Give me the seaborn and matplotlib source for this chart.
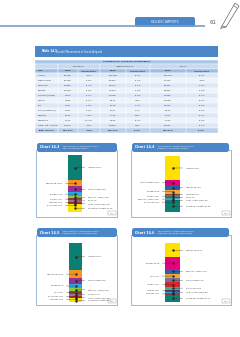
import matplotlib
matplotlib.use("Agg")
import matplotlib.pyplot as plt
from matplotlib.patches import Rectangle, FancyBboxPatch, Polygon
from matplotlib.transforms import blended_transform_factory
import seaborn as sns
import pandas as pd

sns.set_theme(style="white")
plt.rcParams['font.family'] = ['DejaVu Sans']

# ---------------- table data ----------------
cities = ["Athens", "Thessaloniki", "Heraklion", "Rhodes", "Kerkyra (Corfu)", "Chania",
          "Kos", "Thira (Santorini)", "Mikonos", "Zakinthos", "Other GR Airports", "Total Greece"]
dom_2008 = [85265, 20436, 14883, 13008, 3904, 4885, 4247, 3247, 6502, 1004, 41673, 199054]
dom_pct = ["-4.1%", "-0.2%", "-0.0%", "-1.6%", "-2.7%", "-8.0%", "-7.9%", "-6.2%", "-7.6%", "-17.2%", "-4.2%", "-4.8%"]
int_2008 = [101486, 20831, 29014, 17873, 11086, 8175, 8775, 2947, 1252, 3696, 14884, 220019]
int_pct = ["-2.1%", "-3.9%", "-3.0%", "-1.6%", "-3.5%", "0.5%", "-1.1%", "0.7%", "8.0%", "-0.9%", "0.0%", "-2.0%"]
tot_2008 = [186751, 41267, 43897, 30881, 14990, 13060, 13022, 6194, 7754, 4700, 56557, 419073]
tot_pct = ["-3.2%", "-4.4%", "-1.8%", "-1.6%", "-3.3%", "-3.8%", "-3.5%", "-0.3%", "-6.0%", "-2.6%", "-3.1%", "-3.0%"]

# ---------------- chart data ----------------
c1_names = ["Athens", "Heraklion", "Thessaloniki", "Rhodes", "Kerkyra (Corfu)", "Chania",
            "Kos", "Mikonos", "Thira (Santorini)", "Zakinthos", "Other GR Airports"]
c1_values = [186751, 43897, 41267, 30881, 14990, 13060, 13022, 7754, 6194, 4700, 56557]
c1_colors = ['#0c7f73', '#f7941d', '#9b2d96', '#27aae1', '#8dc63f', '#9e3b34', '#8c7a8c',
             '#c1272d', '#6d4c41', '#5b5ea6', '#ffe600']

c2_names = ["Athens", "Thessaloniki", "Heraklion", "Rhodes", "Mikonos", "Chania",
            "Kos", "Kerkyra (Corfu)", "Thira (Santorini)", "Zakinthos", "Other GR Airports"]
c2_values = [85265, 20436, 14883, 13008, 6502, 4885, 4247, 3904, 3247, 1004, 41673]
c2_colors = ['#ffe100', '#e6007e', '#2e5fa8', '#f0a830', '#8b4a3c', '#7b6f9b', '#d7262e',
             '#2bb3a0', '#8dc63f', '#6d2e8e', '#0c7f73']

c3_names = ["Athens", "Heraklion", "Thessaloniki", "Rhodes", "Kerkyra (Corfu)", "Kos",
            "Chania", "Zakinthos", "Thira (Santorini)", "Mikonos", "Other GR Airports"]
c3_values = [101486, 29014, 20831, 17873, 11086, 8775, 8175, 3696, 2947, 1252, 14884]
c3_colors = ['#0c7f73', '#f7941d', '#9b2d96', '#27aae1', '#8dc63f', '#9e3b34', '#8c7a8c',
             '#c1272d', '#6d4c41', '#5b5ea6', '#ffe600']

c4_names = ["Heraklion", "Rhodes", "Kerkyra (Corfu)", "Kos", "Thessaloniki", "Chania",
            "Zakinthos", "Athens", "Thira (Santorini)", "Mikonos", "Other GR Airports"]
c4_values = [26.0, 20.5, 9.3, 7.7, 7.6, 7.5, 5.5, 3.8, 3.0, 2.0, 13.5]
c4_colors = ['#ffe100', '#e6007e', '#2e5fa8', '#f0a830', '#7b6f9b', '#d7262e', '#3cb371',
             '#6d2e8e', '#27aae1', '#8b4a3c', '#0c7f73']

W, H = 240, 337
fig = plt.figure(figsize=(W / 100, H / 100), dpi=100)
fig.patch.set_facecolor('white')
deco = fig.add_axes([0, 0, 1, 1])
deco.set_xlim(0, W)
deco.set_ylim(H, 0)
deco.axis('off')

BLUE = '#4a86c8'
TXT = '#3a3a3a'


def rect(x0, y0, x1, y1, **kw):
    deco.add_patch(Rectangle((x0, y0), x1 - x0, y1 - y0, **kw))


def rbox(x0, y0, x1, y1, r=2, **kw):
    deco.add_patch(FancyBboxPatch((x0, y0), x1 - x0, y1 - y0,
                                  boxstyle=f"round,pad=0,rounding_size={r}", **kw))


# ---------------- page header ----------------
deco.plot([0, 205], [25.5, 25.5], color='#7d9cc4', lw=1.2, solid_capstyle='butt')
rbox(135, 17, 195, 27, r=2, fc=BLUE, ec='none')
deco.text(165, 22, "HELLENIC AIRPORTS", color='white', fontsize=2.0, ha='center', va='center')
deco.text(213, 23, "61", color='#555555', fontsize=4.0, ha='center', va='center')
deco.add_patch(Polygon([[222, 26], [226, 27], [239, 6], [235, 3]], closed=True,
                       fc='none', ec='#666666', lw=0.5))
deco.plot([222, 220.5, 226], [26, 28.5, 27], color='#666666', lw=0.5)
deco.plot([233.5, 237.5], [5.5, 8.5], color='#666666', lw=0.4)

# ---------------- table title bar ----------------
rect(35, 46, 218, 57, fc=BLUE, ec='none')
deco.text(41, 51.5, "Table 14.1", color='white', fontsize=2.0, fontweight='bold', va='center')
deco.text(56, 51.5, "Overall Movements at Greek Airports", color='white', fontsize=1.8, va='center')

# ---------------- table ----------------
edges = [35, 58, 78, 100, 126, 150, 186, 218]
top = 59.5
rect(35, top, 218, 64, fc='#a9c6e8', ec='white', lw=0.3)
deco.text(126.5, 61.8, "COMMERCIAL AIRCRAFT MOVEMENTS", fontsize=1.6, fontweight='bold',
          color=TXT, ha='center', va='center')
rect(35, 64, 58, 68.5, fc='#c6daf0', ec='white', lw=0.3)
for (a, b, lab) in [(58, 100, "DOMESTIC"), (100, 150, "INTERNATIONAL"), (150, 218, "TOTAL")]:
    rect(a, 64, b, 68.5, fc='#c6daf0', ec='white', lw=0.3)
    deco.text((a + b) / 2, 66.3, lab, fontsize=1.6, color=TXT, ha='center', va='center')
heads = ["CITY", "2008", "%2008/2007", "2008", "%2008/2007", "2008", "%2008/2007"]
for j, hd in enumerate(heads):
    rect(edges[j], 68.5, edges[j + 1], 73, fc='#9dbde3', ec='white', lw=0.3)
    if j == 0:
        deco.text(38, 70.8, hd, fontsize=1.6, fontweight='bold', color=TXT, va='center')
    else:
        deco.text((edges[j] + edges[j + 1]) / 2, 70.8, hd, fontsize=1.6, fontweight='bold',
                  color=TXT, ha='center', va='center')

rows = list(zip(cities, dom_2008, dom_pct, int_2008, int_pct, tot_2008, tot_pct))
for i, row in enumerate(rows):
    y0 = 73 + 5 * i
    last = i == len(rows) - 1
    fc = '#b9d0ec' if last else ('#dce8f5' if i % 2 == 0 else '#edf3fa')
    fw = 'bold' if last else 'normal'
    cells = [row[0], f"{row[1]:,}", row[2], f"{row[3]:,}", row[4], f"{row[5]:,}", row[6]]
    for j, cell in enumerate(cells):
        rect(edges[j], y0, edges[j + 1], y0 + 5, fc=fc, ec='white', lw=0.3)
        if j == 0:
            deco.text(38, y0 + 2.6, cell, fontsize=1.6, color=TXT, va='center', fontweight=fw)
        else:
            deco.text((edges[j] + edges[j + 1]) / 2, y0 + 2.6, cell, fontsize=1.6, color=TXT,
                      ha='center', va='center', fontweight=fw)


# ---------------- chart frames ----------------
def frame(x0, y0, x1, y1, tab_x1, num, title):
    rect(x0 + 1.2, y0 + 1.2, x1 + 1.2, y1 + 1.2, fc='#dfe6ef', ec='none')
    rect(x0, y0, x1, y1, fc='white', ec='#9fb8d8', lw=0.7)
    rbox(x0 + 1, y0 - 7, tab_x1, y0 + 2, r=2.5, fc=BLUE, ec='none')
    deco.text(x0 + 4, y0 - 2.5, num, color='white', fontsize=2.3, fontweight='bold', va='center')
    deco.text(x0 + 26, y0 - 2.6, title, color='white', fontsize=1.5, va='center', linespacing=1.3)
    rect(x1 - 9, y1 - 6, x1 - 1.5, y1 - 2, fc='white', ec='#9a9a9a', lw=0.3)
    deco.text(x1 - 5.25, y1 - 4, "2008", fontsize=1.3, color='#555555', ha='center', va='center')


frame(36, 150, 117, 217, 117, "Chart 14.3",
      "Top 10 Greek Airports according to\nTotal Aircraft Movements")
frame(131, 150, 231, 217, 229, "Chart 14.4",
      "Top 10 Greek Airports according to\nDomestic Aircraft Movements")
frame(36, 235, 117, 305, 117, "Chart 14.5",
      "Top 10 Greek Airports according to\nInternational Aircraft Movements")
frame(131, 235, 231, 305, 229, "Chart 14.6",
      "Top 10 Greek Airports according to\nInternational Charter Movements")


# ---------------- stacked bars ----------------
def draw_chart(box, names, values, colors, gap_px=6, min_gap_px=3.0):
    x0, y0, x1, y1 = box
    ax = fig.add_axes([x0 / W, 1 - y1 / H, (x1 - x0) / W, (y1 - y0) / H])
    ax.set_zorder(5)
    df = pd.DataFrame({"grp": ["all"] * len(values), "name": names, "value": values})
    total = df["value"].sum()
    cum = 0.0
    centers = []
    for _, r in df.iterrows():
        c = colors[len(centers)]
        sns.barplot(x=[r["grp"]], y=[r["value"]], bottom=cum, color=c, width=1.0,
                    saturation=1, errorbar=None, edgecolor='none', ax=ax)
        centers.append(cum + r["value"] / 2)
        cum += r["value"]
    ax.set_xlim(-0.5, 0.5)
    ax.set_ylim(total, 0)
    ax.axis('off')
    unit_per_px = total / (y1 - y0)
    min_gap = min_gap_px * unit_per_px
    label_y = list(centers)
    for side in (0, 1):
        prev = None
        for i in range(side, len(centers), 2):
            if prev is not None and label_y[i] < prev + min_gap:
                label_y[i] = prev + min_gap
            prev = label_y[i]
    trans = blended_transform_factory(ax.transAxes, ax.transData)
    gap = gap_px / (x1 - x0)
    for i, (n, v) in enumerate(zip(names, values)):
        right = i % 2 == 0
        ly = label_y[i]
        tx = 1 + gap if right else -gap
        ax.annotate(f"{n.upper()} {100 * v / total:.1f}%", xy=(0.5, ly), xycoords=trans,
                    xytext=(tx, ly), textcoords=trans, ha='left' if right else 'right',
                    va='center', fontsize=1.3, color='#333333', annotation_clip=False,
                    arrowprops=dict(arrowstyle='-', lw=0.25, color='#333333',
                                    shrinkA=0, shrinkB=0))
        ax.plot([0], [ly], 'o', ms=0.7, color='#222222', clip_on=False)


draw_chart((68, 155, 82, 212), c1_names, c1_values, c1_colors)
draw_chart((165, 156, 180, 212), c2_names, c2_values, c2_colors)
draw_chart((69, 243, 82, 302), c3_names, c3_values, c3_colors)
draw_chart((165, 243, 180, 302), c4_names, c4_values, c4_colors)

fig.savefig("out.png", dpi=100, facecolor='white')
